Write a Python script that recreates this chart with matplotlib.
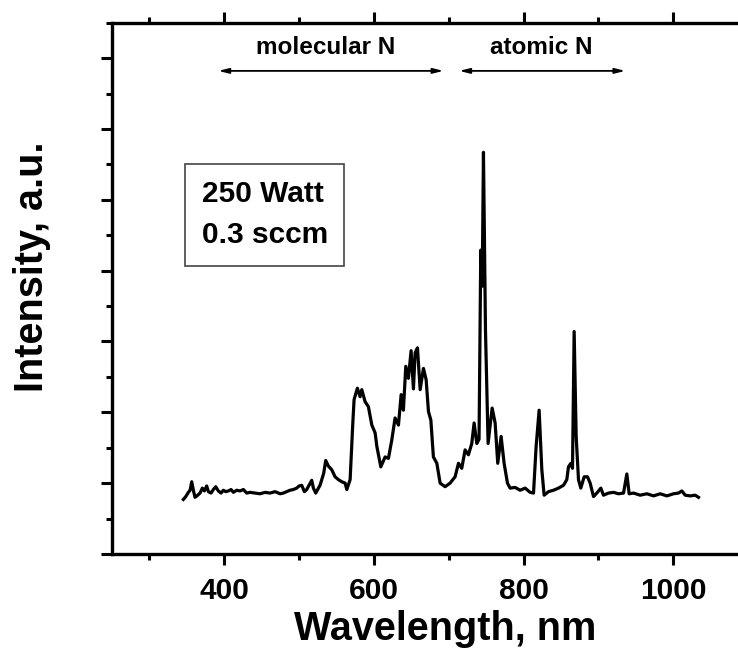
import matplotlib.pyplot as plt
from matplotlib.ticker import MultipleLocator

plt.rcParams['font.family'] = ['Liberation Sans', 'DejaVu Sans']
plt.rcParams['font.weight'] = 'bold'

# emission spectrum (wavelength in nm, intensity a.u.)
wavelength = [345.3, 348.5, 352.0, 354.3, 356.5, 358.7, 360.9, 364.5, 367.6, 370.7,
              373.4, 376.5, 378.8, 382.3, 385.4, 388.6, 392.1, 395.7, 398.8, 401.9,
              405.5, 409.1, 412.2, 416.6, 421.1, 425.6, 430.0, 434.5, 441.1, 447.8,
              454.5, 461.2, 467.9, 474.6, 479.0, 483.5, 487.9, 492.4, 496.8, 500.0,
              503.5, 507.1, 510.2, 513.3, 516.9, 519.1, 522.2, 524.9, 528.0, 530.3,
              532.9, 535.6, 539.2, 543.6, 548.1, 552.5, 557.0, 561.5,
              563.8, 568.2, 571.8, 573.5, 577.9, 581.5, 583.8, 588.2, 592.6, 597.2,
              601.6, 603.9, 609.2, 615.0, 619.4, 623.9, 628.3, 632.8, 636.4, 639.4,
              642.6, 646.1, 649.7, 652.8, 655.1, 658.2, 661.8, 666.2, 669.8, 672.9,
              676.1, 679.5, 684.1,
              688.5, 695.1, 701.8, 708.5, 713.0, 717.4, 721.9, 726.3, 730.8, 733.9,
              737.5, 740.5, 742.8, 744.7, 746.4, 749.1, 752.6, 758.0, 762.0, 765.5,
              770.0, 774.0, 778.5, 782.0, 788.7, 795.4, 802.1, 808.8, 813.3,
              816.8, 820.8, 824.4, 827.5, 833.3, 840.0, 846.7, 853.4, 857.8, 860.0,
              863.2, 865.4, 867.6, 870.3, 873.4, 876.5, 881.0, 885.4, 889.0, 893.5,
              897.9, 903.3, 906.8, 913.5, 920.2, 926.9, 933.6, 938.0, 941.1, 947.0,
              955.8, 964.8, 973.7, 982.6, 991.5, 1000.4, 1007.1, 1011.5, 1016.0, 1022.7,
              1029.4, 1033.8]
intensity = [0.77, 0.81, 0.87, 0.90, 1.02, 0.90, 0.80, 0.83, 0.86, 0.93,
             0.89, 0.96, 0.88, 0.86, 0.91, 0.95, 0.89, 0.86, 0.90, 0.88,
             0.89, 0.91, 0.87, 0.90, 0.89, 0.91, 0.86, 0.87, 0.86, 0.85,
             0.87, 0.86, 0.88, 0.85, 0.86, 0.88, 0.90, 0.91, 0.93, 0.96,
             0.97, 0.88, 0.91, 0.97, 1.04, 0.93, 0.86, 0.91, 0.97, 1.05,
             1.14, 1.32, 1.24, 1.19, 1.09, 1.05, 1.02, 1.00,
             0.91, 1.05, 1.85, 2.18, 2.34, 2.22, 2.32, 2.15, 2.08, 1.82,
             1.71, 1.52, 1.23, 1.37, 1.35, 1.61, 1.92, 1.82, 2.25, 2.03,
             2.65, 2.48, 2.87, 2.33, 2.84, 2.91, 2.32, 2.62, 2.46, 2.01,
             1.89, 1.37, 1.28,
             1.00, 0.95, 1.00, 1.09, 1.28, 1.21, 1.47, 1.40, 1.56, 1.85,
             1.56, 1.62, 4.29, 3.78, 5.67, 3.16, 1.56, 2.06, 1.85, 1.28,
             1.66, 1.28, 1.00, 0.93, 0.94, 0.90, 0.93, 0.87, 0.86,
             1.52, 2.03, 1.19, 0.83, 0.88, 0.90, 0.93, 0.97, 1.05, 1.23,
             1.28, 1.21, 3.14, 1.66, 1.05, 0.93, 1.09, 1.09, 1.00, 0.81,
             0.86, 0.93, 0.83, 0.86, 0.87, 0.85, 0.86, 1.13, 0.85, 0.86,
             0.83, 0.85, 0.82, 0.85, 0.82, 0.85, 0.86, 0.89, 0.83, 0.82,
             0.83, 0.80]

fig = plt.figure(figsize=(7.38, 6.49), dpi=100)
ax = fig.add_axes([0.1518, 0.1464, 0.8618, 0.8186])

ax.plot(wavelength, intensity, color='black', lw=2.3)

ax.set_xlim(250, 1100)
ax.set_ylim(0, 7.5)
ax.xaxis.set_major_locator(MultipleLocator(200))
ax.xaxis.set_minor_locator(MultipleLocator(100))
ax.yaxis.set_major_locator(MultipleLocator(1))
ax.yaxis.set_minor_locator(MultipleLocator(0.5))
ax.tick_params(which='both', direction='out', width=2.2, top=True, right=True,
               labelleft=False, labelsize=21.5, pad=8.5)
ax.tick_params(which='major', length=8)
ax.tick_params(which='minor', length=4.5)
for s in ax.spines.values():
    s.set_linewidth(2.4)

# region arrows
ax.annotate('', xy=(392, 6.82), xytext=(693, 6.82),
            arrowprops=dict(arrowstyle='<|-|>,head_length=0.6,head_width=0.15',
                            color='black', lw=1.3, shrinkA=0, shrinkB=0))
ax.annotate('', xy=(714, 6.82), xytext=(936, 6.82),
            arrowprops=dict(arrowstyle='<|-|>,head_length=0.6,head_width=0.15',
                            color='black', lw=1.3, shrinkA=0, shrinkB=0))
ax.text(536, 7.06, 'molecular N', ha='center', va='baseline', fontsize=17.5)
ax.text(823, 7.06, 'atomic N', ha='center', va='baseline', fontsize=17.5)

ax.text(370, 5.28, '250 Watt\n0.3 sccm', ha='left', va='top', fontsize=21.5,
        linespacing=1.6,
        bbox=dict(boxstyle='square,pad=0.55', fc='white', ec='#444444', lw=1.2))

fig.text(0.6037, 0.0139, 'Wavelength, nm', ha='center', va='baseline', fontsize=28.5)
fig.text(0.0583, 0.5884, 'Intensity, a.u.', rotation=90, rotation_mode='anchor',
         ha='center', va='baseline', fontsize=28.5)

fig.savefig('out.png', dpi=100)
